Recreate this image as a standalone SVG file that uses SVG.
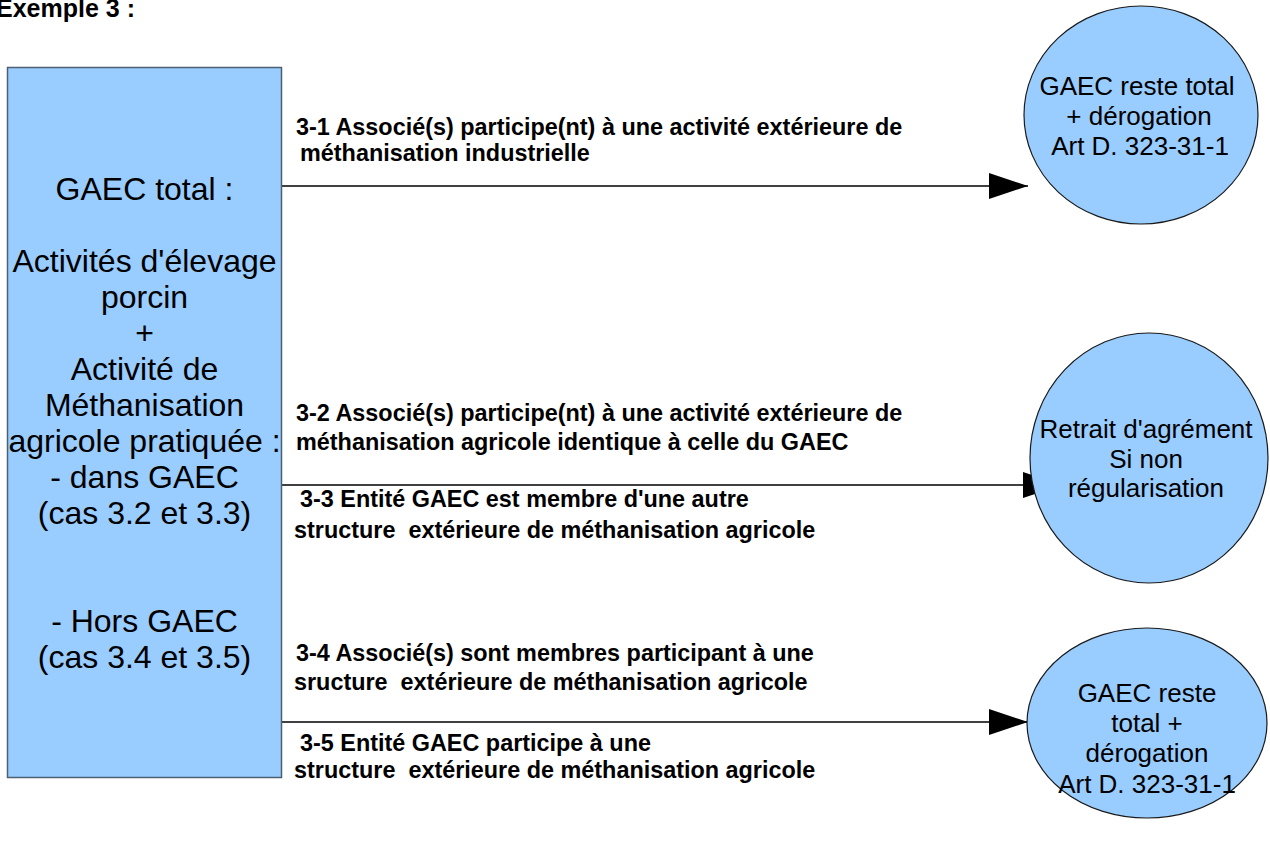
<svg xmlns="http://www.w3.org/2000/svg" width="1270" height="844" viewBox="0 0 1270 844">
<defs>
<style>
.bg{fill:#ffffff}
.box{fill:#99ccff;stroke:#4d6073;stroke-width:1.5}
.circ{fill:#99ccff;stroke:#1a1a1a;stroke-width:1.2}
.t{font-family:"Liberation Sans",Arial,sans-serif;fill:#000}
.big{font-size:32px;text-anchor:middle}
.ct{font-size:26px;text-anchor:middle}
.lbl{font-size:23.4px;font-weight:bold;white-space:pre}
.title{font-size:25px;font-weight:bold}
.conn{stroke:#000;stroke-width:1.3;fill:none}
</style>
<marker id="arr" markerUnits="userSpaceOnUse" markerWidth="40" markerHeight="28" refX="39" refY="13" orient="auto" viewBox="0 0 40 28">
<path d="M0,0 L39,13 L0,26 Z" fill="#000"/>
</marker>
</defs>
<rect class="bg" x="0" y="0" width="1270" height="844"/>
<text class="t title" x="-4" y="17">Exemple 3 :</text>

<g id="connectors">
<line class="conn" x1="282" y1="186" x2="1028" y2="186" marker-end="url(#arr)"/>
<line class="conn" x1="282" y1="485" x2="1062" y2="485" marker-end="url(#arr)"/>
<line class="conn" x1="282" y1="722" x2="1028" y2="722" marker-end="url(#arr)"/>
</g>

<g id="labels">
<text class="t lbl" x="296" y="135">3-1 Associé(s) participe(nt) à une activité extérieure de</text>
<text class="t lbl" x="300" y="161">méthanisation industrielle</text>
<text class="t lbl" x="296" y="421">3-2 Associé(s) participe(nt) à une activité extérieure de</text>
<text class="t lbl" x="296" y="450">méthanisation agricole identique à celle du GAEC</text>
<text class="t lbl" x="300" y="507">3-3 Entité GAEC est membre d'une autre</text>
<text class="t lbl" x="294" y="538">structure  extérieure de méthanisation agricole</text>
<text class="t lbl" x="296" y="661">3-4 Associé(s) sont membres participant à une</text>
<text class="t lbl" x="294" y="690">sructure  extérieure de méthanisation agricole</text>
<text class="t lbl" x="300" y="751">3-5 Entité GAEC participe à une</text>
<text class="t lbl" x="294" y="778">structure  extérieure de méthanisation agricole</text>
</g>

<g id="gaec-total">
<rect class="box" x="7.5" y="67.5" width="274" height="710"/>
<text class="t big" x="144.5" y="200">GAEC total :</text>
<text class="t big" x="144.5" y="272">Activités d'élevage</text>
<text class="t big" x="144.5" y="308">porcin</text>
<text class="t big" x="144.5" y="344">+</text>
<text class="t big" x="144.5" y="380">Activité de</text>
<text class="t big" x="144.5" y="416">Méthanisation</text>
<text class="t big" x="144.5" y="452">agricole pratiquée :</text>
<text class="t big" x="144.5" y="488">- dans GAEC</text>
<text class="t big" x="144.5" y="524">(cas 3.2 et 3.3)</text>
<text class="t big" x="144.5" y="632">- Hors GAEC</text>
<text class="t big" x="144.5" y="668">(cas 3.4 et 3.5)</text>
</g>

<g id="result-1">
<ellipse class="circ" cx="1141" cy="115" rx="117" ry="109"/>
<text class="t ct" x="1137" y="95">GAEC reste total</text>
<text class="t ct" x="1139" y="125">+ dérogation</text>
<text class="t ct" x="1140" y="155">Art D. 323-31-1</text>
</g>

<g id="result-2">
<ellipse class="circ" cx="1149" cy="458" rx="119" ry="125"/>
<text class="t ct" x="1146" y="438">Retrait d'agrément</text>
<text class="t ct" x="1146" y="468">Si non</text>
<text class="t ct" x="1146" y="497">régularisation</text>
</g>

<g id="result-3">
<ellipse class="circ" cx="1147" cy="723" rx="120" ry="95"/>
<text class="t ct" x="1147" y="702">GAEC reste</text>
<text class="t ct" x="1147" y="732">total +</text>
<text class="t ct" x="1147" y="762">dérogation</text>
<text class="t ct" x="1147" y="793">Art D. 323-31-1</text>
</g>
</svg>
